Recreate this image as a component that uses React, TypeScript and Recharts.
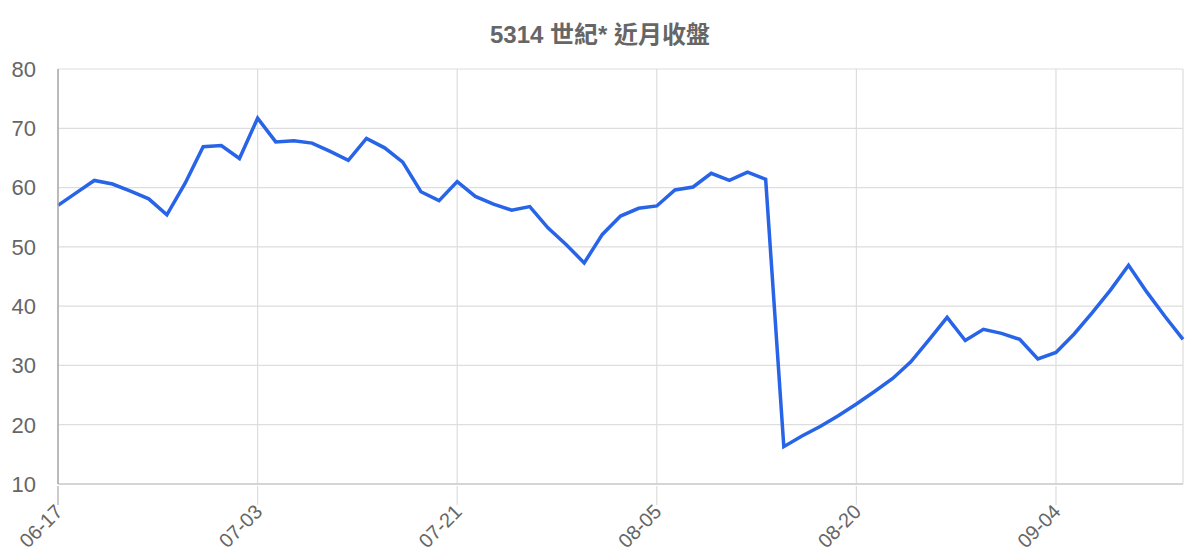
import { CartesianGrid, Line, LineChart, XAxis, YAxis } from "recharts";

const dates = [
  "06-17", "06-18", "06-19", "06-20", "06-21", "06-24", "06-25", "06-26", "06-27", "06-28", "07-01",
  "07-03", "07-04", "07-05", "07-08", "07-09", "07-10", "07-11", "07-12", "07-15", "07-16", "07-17",
  "07-21", "07-22", "07-23", "07-24", "07-25", "07-26", "07-29", "07-30", "07-31", "08-01", "08-02",
  "08-05", "08-06", "08-07", "08-08", "08-09", "08-12", "08-13", "08-14", "08-15", "08-16", "08-19",
  "08-20", "08-21", "08-22", "08-23", "08-26", "08-27", "08-28", "08-29", "08-30", "09-02", "09-03",
  "09-04", "09-05", "09-06", "09-09", "09-10", "09-11", "09-12", "09-13",
];

const closes = [
  57.0, 59.1, 61.2, 60.6, 59.4, 58.1, 55.4, 60.7, 66.9, 67.1, 64.9,
  71.7, 67.7, 67.9, 67.5, 66.1, 64.6, 68.3, 66.7, 64.3, 59.3, 57.8,
  61.0, 58.5, 57.2, 56.2, 56.8, 53.2, 50.4, 47.3, 52.1, 55.2, 56.5,
  56.9, 59.6, 60.1, 62.4, 61.2, 62.6, 61.4, 16.3, 18.1, 19.7, 21.5,
  23.5, 25.6, 27.8, 30.6, 34.3, 38.1, 34.2, 36.1, 35.4, 34.4, 31.1,
  32.2, 35.3, 38.9, 42.7, 46.9, 42.4, 38.3, 34.4,
];

const yTicks = [10, 20, 30, 40, 50, 60, 70, 80];

const data = dates.map((d, i) => ({ date: d, close: closes[i] }));

const font = "'Liberation Sans', 'Noto Sans CJK TC', sans-serif";

function DateTick(props: any) {
  const { x, y, payload, index } = props;
  return (
    <g>
      <line
        x1={x}
        y1={y - 8}
        x2={x}
        y2={y + 11}
        stroke={index === 0 ? "#aaa" : "#ddd"}
        strokeWidth={1.2}
      />
      <text
        x={x + 1}
        y={y + 14}
        transform={`rotate(-45, ${x + 1}, ${y + 14})`}
        textAnchor="end"
        dominantBaseline="central"
        fontSize={20}
        fill="#666"
        fontFamily={font}
      >
        {payload.value}
      </text>
    </g>
  );
}

export default function App() {
  return (
    <div style={{ position: "absolute", left: 0, top: 0, width: 1200, height: 560, background: "#fff" }}>
      <div
        style={{
          position: "absolute",
          top: 15,
          width: 1200,
          textAlign: "center",
          fontFamily: font,
          fontWeight: "bold",
          fontSize: 24,
          color: "#666",
        }}
      >
        5314 世紀* 近月收盤
      </div>
      <LineChart width={1200} height={560} data={data} margin={{ top: 69, right: 17, bottom: 0, left: 0 }}>
        <CartesianGrid stroke="#ddd" strokeWidth={1.2} />
        <XAxis
          dataKey="date"
          interval={10}
          height={76}
          axisLine={{ stroke: "#ccc", strokeWidth: 1.5 }}
          tickLine={false}
          tick={<DateTick />}
          tickSize={8}
        />
        <YAxis
          domain={[10, 80]}
          ticks={yTicks}
          width={58}
          axisLine={{ stroke: "#aaa", strokeWidth: 1.5 }}
          tickLine={false}
          tickSize={0}
          tickMargin={22}
          tick={{ fontSize: 22, fill: "#666", fontFamily: font }}
        />
        <Line
          type="linear"
          dataKey="close"
          stroke="#2764e7"
          strokeWidth={3.5}
          dot={false}
          isAnimationActive={false}
        />
      </LineChart>
    </div>
  );
}
